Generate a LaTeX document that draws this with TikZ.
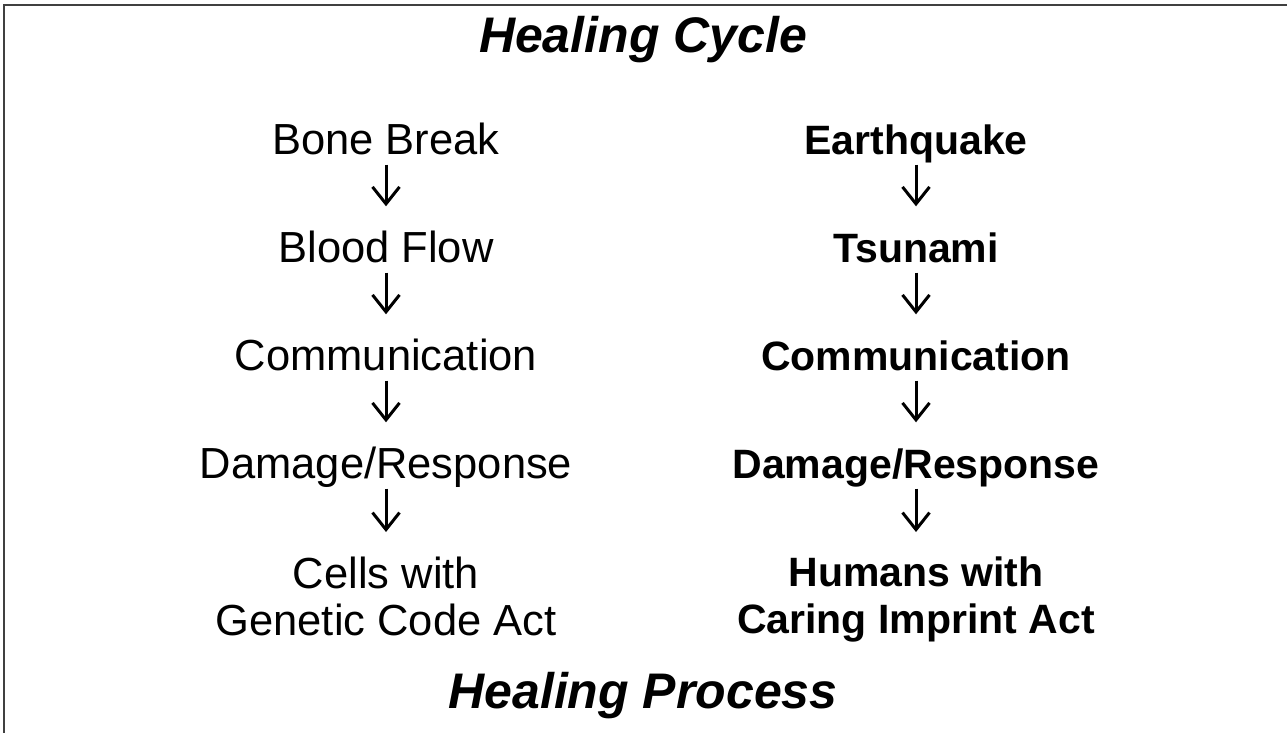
\documentclass[tikz,border=0pt]{standalone}
\usepackage{fontspec}
\setmainfont{Liberation Sans}
\usetikzlibrary{arrows.meta}
\begin{document}
\begin{tikzpicture}[x=1pt,y=-1pt,
    stage/.style={inner sep=0pt,text height=31pt,text depth=0pt,font=\fontsize{43.5}{47}\selectfont},
    bstage/.style={stage,font=\fontsize{41}{47}\selectfont\bfseries},
    laststage/.style={inner sep=0pt,anchor=north,align=center,font=\fontsize{43.5}{47}\selectfont},
    blaststage/.style={laststage,font=\fontsize{41}{47}\selectfont\bfseries},
    heading/.style={inner sep=0pt,text height=36pt,text depth=0pt,font=\fontsize{50}{56}\selectfont\bfseries\itshape},
    flow/.style={-{Straight Barb[length=17pt,width=27pt]},line width=3pt,shorten <=10pt,shorten >=25pt}]
        \useasboundingbox (0,0) rectangle (1287,733);
        % Draw open frame
        \draw[black!75,line width=2pt] (4,733) -- (4,5) -- (1287,5);
        % Draw headings
        \node[heading] (cycle) at (643,35) {Healing Cycle};
        \node[heading] (process) at (643,690) {Healing Process};
        % Draw body column
        \node[stage] (bone) at (386,139) {Bone Break};
        \node[stage] (blood) at (386,247) {Blood Flow};
        \node[stage] (comm) at (386,355) {Communication};
        \node[stage] (damage) at (386,463) {Damage/Response};
        \node[laststage] (cells) at (386,557) {Cells with\\Genetic Code Act};
        % Draw earth column
        \node[bstage] (quake) at (916,139) {Earthquake};
        \node[bstage] (wave) at (916,247) {Tsunami};
        \node[bstage] (ecomm) at (916,355) {Communication};
        \node[bstage] (edamage) at (916,463) {Damage/Response};
        \node[blaststage] (humans) at (916,557) {Humans with\\Caring Imprint Act};
        % Draw arrows between stages
        \foreach \a/\b in {bone/blood,blood/comm,comm/damage,damage/cells,
                           quake/wave,wave/ecomm,ecomm/edamage,edamage/humans}
            \draw[flow] (\a.south) -- (\b.north);
    \end{tikzpicture}
\end{document}
